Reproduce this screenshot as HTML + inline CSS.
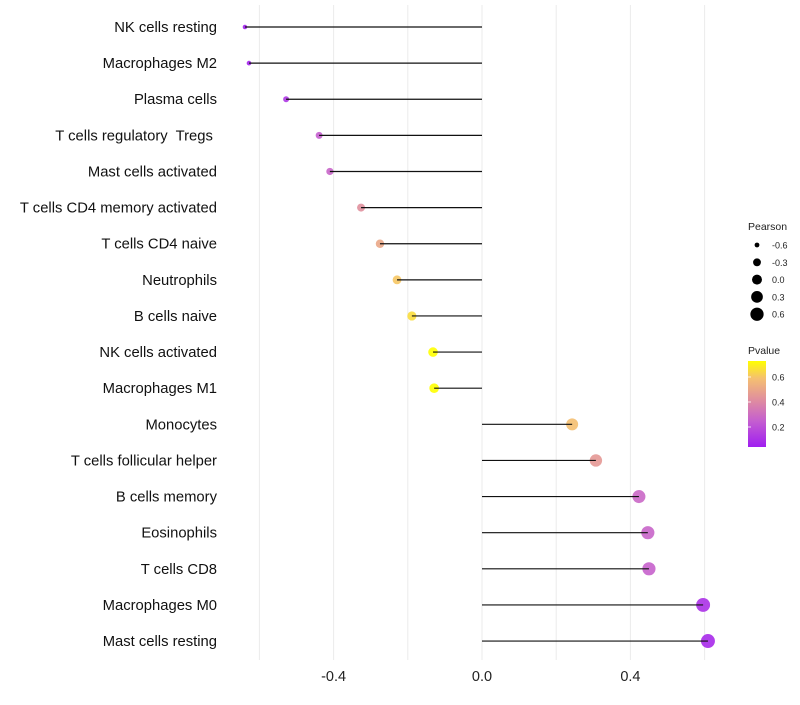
<!DOCTYPE html>
<html><head><meta charset="utf-8"><style>
body{margin:0;background:#fff;font-family:"Liberation Sans",sans-serif}
svg text{font-family:"Liberation Sans",sans-serif;white-space:pre}
</style></head><body>
<svg id="chart" width="800" height="700" xmlns="http://www.w3.org/2000/svg">
<g id="grid"></g>
<g id="dots"></g>
<g id="marks"></g>
<g id="ylabels"></g>
<g id="xlabels"></g>
<g id="legend">
<text x="748" y="230" font-size="10.5" fill="#222">Pearson</text>
<g id="sizeleg"></g>
<text x="748" y="354" font-size="10.5" fill="#222">Pvalue</text>
<defs><linearGradient id="pg" x1="0" y1="1" x2="0" y2="0">
<stop offset="0" stop-color="#a01ef0"/><stop offset="0.3" stop-color="#c45ed0"/><stop offset="0.52" stop-color="#dd88a4"/><stop offset="0.8" stop-color="#f5c070"/><stop offset="1" stop-color="#ffff00"/></linearGradient></defs>
<rect x="748" y="361" width="18" height="86" fill="url(#pg)"/>
<g id="colorleg"></g>
</g>
</svg>
<script>
const categories=["NK cells resting","Macrophages M2","Plasma cells","T cells regulatory  Tregs ","Mast cells activated","T cells CD4 memory activated","T cells CD4 naive","Neutrophils","B cells naive","NK cells activated","Macrophages M1","Monocytes","T cells follicular helper","B cells memory","Eosinophils","T cells CD8","Macrophages M0","Mast cells resting"];
const pearson=[-0.639,-0.628,-0.528,-0.439,-0.410,-0.326,-0.275,-0.229,-0.189,-0.132,-0.129,0.243,0.307,0.423,0.447,0.450,0.596,0.609];
const pvalue=[0.05,0.06,0.12,0.25,0.27,0.42,0.5,0.6,0.65,0.73,0.73,0.58,0.45,0.28,0.27,0.26,0.1,0.08];
const xTicks=[-0.4,0.0,0.4];
const xGrid=[-0.6,-0.4,-0.2,0,0.2,0.4,0.6];
const sizeLegend=[-0.6,-0.3,0.0,0.3,0.6];
const colorTicks=[0.2,0.4,0.6];
const NS="http://www.w3.org/2000/svg";
const X=v=>482+v*371;
const Y=i=>27+i*36.12;
const R=v=>Math.sqrt(Math.max(2,27.5+35.2*v));
const stops=[[0.04,[160,30,240]],[0.245,[196,94,208]],[0.394,[221,136,164]],[0.585,[245,192,112]],[0.728,[255,255,0]]];
function col(p){if(p<=stops[0][0])return `rgb(${stops[0][1]})`;for(let k=1;k<stops.length;k++){if(p<=stops[k][0]){const a=stops[k-1],b=stops[k],t=(p-a[0])/(b[0]-a[0]);return `rgb(${a[1].map((c,j)=>Math.round(c+(b[1][j]-c)*t))})`;}}return 'rgb(255,255,0)';}
function mk(t,at,par){const e=document.createElementNS(NS,t);for(const k in at)e.setAttribute(k,at[k]);document.getElementById(par).appendChild(e);return e;}
xGrid.forEach(v=>{const l=mk('line',{x1:X(v),x2:X(v),y1:5,y2:660,stroke:'#ebebeb','stroke-width':1},'grid');

});
categories.forEach((c,i)=>{
const d=mk('circle',{cx:X(pearson[i]),cy:Y(i),r:R(pearson[i]),fill:col(pvalue[i]),'fill-opacity':0.9},'dots');


const l=mk('line',{x1:X(pearson[i]),x2:X(0),y1:Y(i),y2:Y(i),stroke:'#111','stroke-width':1.2},'marks');


const t=mk('text',{x:217,y:Y(i)+5,'text-anchor':'end','font-size':14.8,fill:'#111'},'ylabels');
t.textContent=c;

});
xTicks.forEach(v=>{const t=mk('text',{x:X(v),y:681,'text-anchor':'middle','font-size':14.5,fill:'#222'},'xlabels');
t.textContent=v.toFixed(1);

});
sizeLegend.forEach((v,i)=>{const y=245+i*17.3;
const c=mk('circle',{cx:757,cy:y,r:R(v)*0.95,fill:'#000'},'sizeleg');


const t=mk('text',{x:772,y:y+3.5,'font-size':9,fill:'#222'},'sizeleg');
t.textContent=v.toFixed(1);

});
colorTicks.forEach(v=>{const y=447-(v-0.04)*125;
const l=mk('line',{x1:748,x2:751,y1:y,y2:y,stroke:'#fff','stroke-width':0.8},'colorleg');


const t=mk('text',{x:772,y:y+3.5,'font-size':9,fill:'#222'},'colorleg');
t.textContent=v.toFixed(1);

});
</script>
</body></html>
